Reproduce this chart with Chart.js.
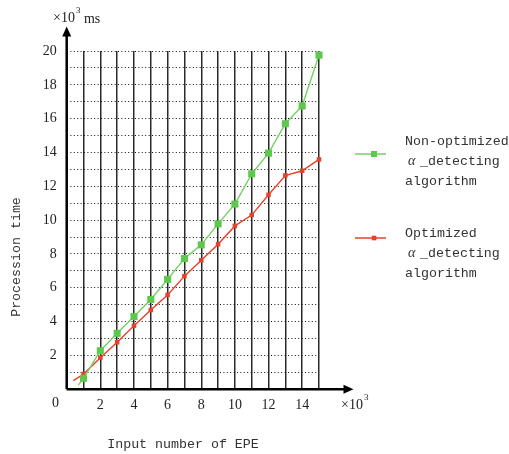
<!DOCTYPE html>
<html><head><meta charset="utf-8">
<script src="https://cdn.jsdelivr.net/npm/chart.js@4/dist/chart.umd.min.js"></script>
<style>html,body{margin:0;padding:0;background:#fff;}canvas{display:block;}</style>
</head><body>
<canvas id="c" width="509" height="454"></canvas>
<script>
const greenX = [0.69, 1, 2, 3, 4, 5, 6, 7, 8, 9, 10, 11, 12, 13, 14, 15];
const greenY = [0.25, 0.65, 2.28, 3.31, 4.30, 5.31, 6.50, 7.73, 8.54, 9.78, 10.95, 12.74, 13.96, 15.70, 16.75, 19.76];
const redX = [0.39, 1, 2, 3, 4, 5, 6, 7, 8, 9, 10, 11, 12, 13, 14, 15];
const redY = [0.51, 0.90, 1.87, 2.78, 3.76, 4.69, 5.58, 6.69, 7.63, 8.58, 9.66, 10.30, 11.50, 12.64, 12.92, 13.59];
const xTickLabels = [2, 4, 6, 8, 10, 12, 14];
const yTickLabels = [2, 4, 6, 8, 10, 12, 14, 16, 18, 20];
const seriesNames = [["Non-optimized", "α_detecting", "algorithm"], ["Optimized", "α_detecting", "algorithm"]];
const xTitle = "Input number of EPE";
const yTitle = "Procession time";

const GREEN = '#5cc84c', GREEN_LINE = '#72d262', RED = '#e8402a';
const SERIF = '"Liberation Serif", "DejaVu Serif", serif';
const MONO = '"Liberation Mono", "DejaVu Sans Mono", monospace';

function pts(xs, ys){ return xs.map((x,i)=>({x:x, y:ys[i]})); }

function sup(ctx, base, x, y, extra){
  ctx.font = '14px ' + SERIF;
  ctx.fillText(base, x, y);
  const w = ctx.measureText(base).width;
  ctx.font = '9px ' + SERIF;
  ctx.fillText('3', x + w + 1, y - 7);
  if (extra) { ctx.font = '14px ' + SERIF; ctx.fillText(extra, x + w + 9, y + 1); }
}

const extras = {
  id: 'extras',
  afterDraw(chart){
    const ctx = chart.ctx, xs = chart.scales.x, ys = chart.scales.y;
    const x0 = xs.getPixelForValue(0), y0 = ys.getPixelForValue(0);
    const xTip = xs.getPixelForValue(17.05), yTip = ys.getPixelForValue(21.45);
    ctx.save();
    ctx.strokeStyle = '#000'; ctx.fillStyle = '#000'; ctx.lineWidth = 2.5; ctx.setLineDash([]);
    ctx.beginPath(); ctx.moveTo(x0, y0); ctx.lineTo(xTip - 4, y0); ctx.stroke();
    ctx.beginPath(); ctx.moveTo(x0, y0); ctx.lineTo(x0, yTip + 4); ctx.stroke();
    ctx.beginPath(); ctx.moveTo(xTip, y0); ctx.lineTo(xTip - 10, y0 - 4.5); ctx.lineTo(xTip - 10, y0 + 4.5); ctx.closePath(); ctx.fill();
    ctx.beginPath(); ctx.moveTo(x0, yTip); ctx.lineTo(x0 - 4.5, yTip + 10); ctx.lineTo(x0 + 4.5, yTip + 10); ctx.closePath(); ctx.fill();

    ctx.fillStyle = '#222';
    ctx.font = '14px ' + SERIF; ctx.textBaseline = 'middle'; ctx.textAlign = 'left';
    ctx.fillText('0', 52, 403);
    sup(ctx, '×10', 341, 405);
    sup(ctx, '×10', 53, 18, 'ms');

    // titles
    ctx.font = '13.3px ' + MONO; ctx.fillStyle = '#333';
    ctx.textAlign = 'center';
    ctx.fillText(xTitle, 183, 444);
    ctx.save(); ctx.translate(16, 257); ctx.rotate(-Math.PI/2); ctx.fillText(yTitle, 0, 0); ctx.restore();

    // legend
    const items = [{c: GREEN_LINE, m: GREEN, y: 154, r: 3, ty: 141}, {c: RED, m: RED, y: 238, r: 2.3, ty: 233}];
    items.forEach((it, k) => {
      ctx.strokeStyle = it.c; ctx.lineWidth = 1.5;
      ctx.beginPath(); ctx.moveTo(355, it.y); ctx.lineTo(386, it.y); ctx.stroke();
      ctx.fillStyle = it.m; ctx.fillRect(374 - it.r, it.y - it.r, it.r*2, it.r*2);
      ctx.fillStyle = '#333'; ctx.textAlign = 'left';
      const lines = seriesNames[k];
      ctx.font = '13.3px ' + MONO;
      ctx.fillText(lines[0], 405, it.ty);
      ctx.font = 'italic 14px ' + SERIF;
      ctx.fillText(lines[1].charAt(0), 408, it.ty + 20);
      ctx.font = '13.3px ' + MONO;
      ctx.fillText(lines[1].slice(1), 420, it.ty + 20);
      ctx.fillText(lines[2], 405, it.ty + 40);
    });
    ctx.restore();
  }
};

new Chart(document.getElementById('c'), {
  type: 'scatter',
  data: {
    datasets: [
      { label: seriesNames[0].join(' '), data: pts(greenX, greenY), showLine: true, clip: false,
        borderColor: GREEN_LINE, backgroundColor: GREEN, borderWidth: 1.4,
        pointStyle: 'rect', pointRadius: c => c.dataIndex === 0 ? 0 : 5, pointBorderWidth: 0 },
      { label: seriesNames[1].join(' '), data: pts(redX, redY), showLine: true, clip: false,
        borderColor: RED, backgroundColor: RED, borderWidth: 1.4,
        pointStyle: 'rect', pointRadius: c => c.dataIndex === 0 ? 0 : 3.2, pointBorderWidth: 0 }
    ]
  },
  options: {
    responsive: false, animation: false, devicePixelRatio: 1,
    layout: { padding: { left: 0, right: 190, top: 51, bottom: 0 } },
    plugins: { legend: { display: false }, tooltip: { enabled: false } },
    scales: {
      x: {
        type: 'linear', min: 0, max: 15,
        afterFit: s => { s.height = 64.7; },
        ticks: { stepSize: 1, autoSkip: false, maxRotation: 0, padding: 8, color: '#222',
                 font: { family: SERIF, size: 14 },
                 callback: v => xTickLabels.includes(v) ? String(v) : '' },
        grid: { color: '#2a2a2a', lineWidth: 1.5, drawTicks: false },
        border: { display: false }
      },
      y: {
        type: 'linear', min: 0, max: 20,
        afterFit: s => { s.width = 66.7; },
        ticks: { stepSize: 1, autoSkip: false, padding: 10, color: '#222',
                 font: { family: SERIF, size: 14 },
                 callback: v => yTickLabels.includes(v) ? String(v) : '' },
        grid: { color: '#111', lineWidth: 1, drawTicks: false },
        border: { display: false, dash: [1, 2.4] }
      }
    }
  },
  plugins: [extras]
});
</script>
</body></html>
